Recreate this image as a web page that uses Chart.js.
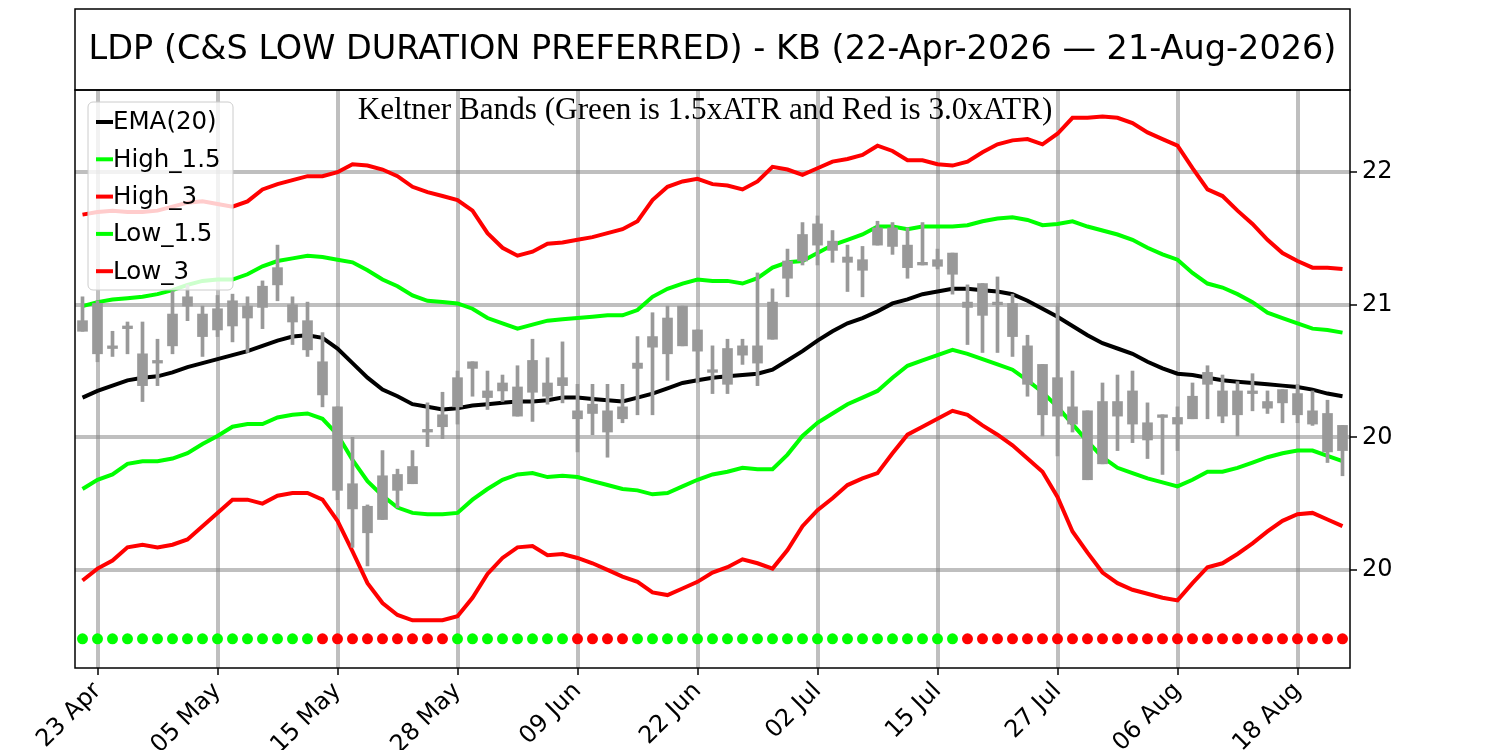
<!DOCTYPE html>
<html>
<head>
<meta charset="utf-8">
<title>LDP Keltner Bands</title>
<script src="https://cdn.jsdelivr.net/npm/chart.js@4.4.1/dist/chart.umd.min.js"></script>
<style>
    html, body { margin: 0; padding: 0; background: #fff; }
    #chart { display: block; }
</style>
</head>
<body>
<canvas id="chart" width="1500" height="750"></canvas>
<script>
// Trading days 22-Apr-2026 .. 21-Aug-2026 (85 sessions), x = session index
var xTickIdx = [1, 9, 17, 25, 33, 41, 49, 57, 65, 73, 81];
var xTickLabels = ['23 Apr', '05 May', '15 May', '28 May', '09 Jun', '22 Jun', '02 Jul', '15 Jul', '27 Jul', '06 Aug', '18 Aug'];
var yTickVals = [19, 20, 21, 22];
var yTickLabels = ['20', '20', '21', '22'];

// candles (all drawn gray): wick high/low and body top/bottom
var high = [21.06, 21.03, 20.80, 20.87, 20.87, 20.74, 21.10, 21.15, 20.99, 21.07, 21.08, 21.06, 21.18, 21.45, 21.06, 21.02, 20.79,
    20.23, 20.00, 19.49, 19.90, 19.76, 19.90, 20.26, 20.34, 20.50, 20.57, 20.50, 20.47, 20.54, 20.74, 20.60, 20.72, 20.40, 20.40,
    20.40, 20.40, 20.76, 20.94, 20.99, 20.99, 20.81, 20.69, 20.74, 20.74, 21.24, 21.12, 21.42, 21.62, 21.67, 21.56, 21.45, 21.44,
    21.63, 21.62, 21.58, 21.62, 21.42, 21.39, 21.15, 21.16, 21.21, 21.08, 20.77, 20.55, 20.99, 20.50, 20.20, 20.41, 20.47, 20.50,
    20.26, 20.17, 20.23, 20.41, 20.54, 20.47, 20.42, 20.48, 20.35, 20.36, 20.40, 20.35, 20.28, 20.09];
var low = [20.80, 20.57, 20.61, 20.63, 20.27, 20.39, 20.63, 20.88, 20.61, 20.76, 20.72, 20.64, 20.82, 21.03, 20.70, 20.61, 20.23,
    19.53, 19.17, 19.03, 19.38, 19.47, 19.65, 19.93, 19.99, 20.10, 20.31, 20.21, 20.27, 20.16, 20.12, 20.25, 20.26, 19.89, 20.02,
    19.85, 20.11, 20.17, 20.17, 20.43, 20.69, 20.41, 20.33, 20.33, 20.55, 20.39, 20.74, 21.06, 21.30, 21.30, 21.32, 21.10, 21.06,
    21.45, 21.38, 21.20, 21.30, 21.27, 21.08, 20.70, 20.64, 20.64, 20.61, 20.31, 20.01, 19.86, 20.04, 19.68, 19.80, 19.90, 19.96,
    19.84, 19.72, 19.90, 20.14, 20.14, 20.11, 20.01, 20.20, 20.18, 20.11, 20.11, 20.09, 19.81, 19.71];
var bodyTop = [20.88, 21.01, 20.69, 20.84, 20.63, 20.58, 20.93, 21.06, 20.93, 20.97, 21.03, 20.99, 21.14, 21.28, 21.00, 20.88, 20.57,
    20.23, 19.65, 19.48, 19.71, 19.72, 19.78, 20.06, 20.17, 20.45, 20.57, 20.35, 20.41, 20.38, 20.58, 20.41, 20.45, 20.20, 20.25,
    20.20, 20.23, 20.56, 20.76, 20.90, 20.99, 20.81, 20.51, 20.67, 20.69, 20.69, 21.02, 21.33, 21.53, 21.61, 21.48, 21.36, 21.34,
    21.58, 21.58, 21.45, 21.32, 21.34, 21.39, 21.02, 21.16, 21.02, 21.01, 20.69, 20.55, 20.45, 20.23, 20.20, 20.27, 20.27, 20.35,
    20.11, 20.17, 20.15, 20.31, 20.49, 20.35, 20.35, 20.35, 20.27, 20.36, 20.33, 20.20, 20.18, 20.09];
var bodyBot = [20.80, 20.63, 20.67, 20.82, 20.39, 20.56, 20.69, 20.99, 20.76, 20.81, 20.84, 20.90, 20.98, 21.15, 20.87, 20.66, 20.32,
    19.60, 19.46, 19.28, 19.38, 19.60, 19.65, 20.04, 20.08, 20.23, 20.52, 20.30, 20.35, 20.16, 20.34, 20.31, 20.39, 20.14, 20.18,
    20.04, 20.14, 20.52, 20.68, 20.63, 20.69, 20.65, 20.49, 20.40, 20.62, 20.56, 20.74, 21.20, 21.33, 21.45, 21.41, 21.32, 21.26,
    21.45, 21.44, 21.28, 21.30, 21.29, 21.23, 20.98, 20.92, 21.00, 20.76, 20.40, 20.17, 20.16, 20.10, 19.68, 19.80, 20.16, 20.10,
    19.98, 20.15, 20.10, 20.14, 20.40, 20.16, 20.17, 20.33, 20.22, 20.26, 20.17, 20.10, 19.89, 19.90];

var ema20 = [20.30, 20.35, 20.39, 20.43, 20.45, 20.46, 20.49, 20.53, 20.56, 20.59, 20.62, 20.65, 20.69, 20.73, 20.76, 20.77, 20.75,
    20.67, 20.56, 20.45, 20.36, 20.31, 20.25, 20.23, 20.21, 20.22, 20.24, 20.25, 20.26, 20.27, 20.27, 20.28, 20.30, 20.30, 20.29,
    20.28, 20.27, 20.30, 20.33, 20.37, 20.41, 20.43, 20.45, 20.46, 20.47, 20.48, 20.51, 20.58, 20.65, 20.73, 20.80, 20.86, 20.90,
    20.95, 21.01, 21.04, 21.08, 21.10, 21.12, 21.12, 21.11, 21.10, 21.08, 21.03, 20.97, 20.91, 20.84, 20.77, 20.71, 20.67, 20.63,
    20.57, 20.52, 20.48, 20.47, 20.45, 20.43, 20.42, 20.41, 20.40, 20.39, 20.38, 20.36, 20.33, 20.31];
var high15 = [20.99, 21.02, 21.04, 21.05, 21.06, 21.08, 21.11, 21.15, 21.18, 21.19, 21.19, 21.23, 21.29, 21.33, 21.35, 21.37, 21.36,
    21.34, 21.32, 21.26, 21.19, 21.14, 21.07, 21.03, 21.02, 21.01, 20.97, 20.90, 20.86, 20.82, 20.85, 20.88, 20.89, 20.90, 20.91,
    20.92, 20.92, 20.96, 21.06, 21.12, 21.16, 21.19, 21.18, 21.18, 21.16, 21.20, 21.28, 21.32, 21.33, 21.39, 21.45, 21.49, 21.53,
    21.59, 21.59, 21.57, 21.59, 21.59, 21.59, 21.60, 21.63, 21.65, 21.66, 21.64, 21.60, 21.61, 21.63, 21.59, 21.56, 21.53, 21.49,
    21.43, 21.38, 21.34, 21.24, 21.16, 21.13, 21.08, 21.02, 20.94, 20.90, 20.86, 20.82, 20.81, 20.79];
var high3 = [21.68, 21.70, 21.71, 21.70, 21.70, 21.71, 21.74, 21.77, 21.78, 21.76, 21.74, 21.78, 21.87, 21.91, 21.94, 21.97, 21.97,
    22.00, 22.06, 22.05, 22.02, 21.97, 21.89, 21.85, 21.82, 21.79, 21.71, 21.54, 21.43, 21.37, 21.40, 21.46, 21.47, 21.49, 21.51,
    21.54, 21.57, 21.63, 21.79, 21.89, 21.93, 21.95, 21.91, 21.90, 21.87, 21.93, 22.04, 22.02, 21.98, 22.03, 22.08, 22.10, 22.13,
    22.20, 22.16, 22.09, 22.09, 22.06, 22.05, 22.08, 22.15, 22.21, 22.24, 22.25, 22.21, 22.29, 22.41, 22.41, 22.42, 22.41, 22.37,
    22.30, 22.25, 22.20, 22.03, 21.87, 21.82, 21.71, 21.61, 21.49, 21.39, 21.33, 21.28, 21.28, 21.27];
var low15 = [19.61, 19.68, 19.72, 19.80, 19.82, 19.82, 19.84, 19.88, 19.95, 20.01, 20.08, 20.10, 20.10, 20.15, 20.17, 20.18, 20.14,
    20.02, 19.83, 19.67, 19.56, 19.47, 19.43, 19.42, 19.42, 19.43, 19.53, 19.61, 19.68, 19.72, 19.73, 19.70, 19.71, 19.70, 19.67,
    19.64, 19.61, 19.60, 19.57, 19.58, 19.63, 19.68, 19.72, 19.74, 19.77, 19.76, 19.76, 19.87, 20.01, 20.11, 20.18, 20.25, 20.30,
    20.35, 20.45, 20.54, 20.58, 20.62, 20.66, 20.63, 20.59, 20.55, 20.51, 20.43, 20.34, 20.23, 20.10, 19.97, 19.85, 19.77, 19.73,
    19.69, 19.66, 19.63, 19.68, 19.74, 19.74, 19.77, 19.81, 19.85, 19.88, 19.90, 19.90, 19.86, 19.82];
var low3 = [18.92, 19.01, 19.07, 19.17, 19.19, 19.17, 19.19, 19.23, 19.33, 19.43, 19.53, 19.53, 19.50, 19.56, 19.58, 19.58, 19.53,
    19.37, 19.14, 18.90, 18.75, 18.66, 18.62, 18.62, 18.62, 18.65, 18.79, 18.97, 19.09, 19.17, 19.18, 19.11, 19.12, 19.09, 19.05,
    19.00, 18.95, 18.91, 18.83, 18.81, 18.86, 18.91, 18.98, 19.02, 19.08, 19.05, 19.01, 19.15, 19.33, 19.45, 19.54, 19.64, 19.69,
    19.73, 19.88, 20.02, 20.08, 20.14, 20.20, 20.17, 20.09, 20.02, 19.94, 19.84, 19.74, 19.55, 19.29, 19.13, 18.98, 18.90, 18.85,
    18.82, 18.79, 18.77, 18.90, 19.02, 19.05, 19.12, 19.20, 19.29, 19.37, 19.42, 19.43, 19.38, 19.33];

// signal row along the bottom: 1 = green, -1 = red
var signal = [1, 1, 1, 1, 1, 1, 1, 1, 1, 1, 1, 1, 1, 1, 1, 1, -1, -1, -1, -1, -1, -1, -1, -1, -1, 1, 1, 1, 1, 1, 1, 1, 1,
    -1, -1, -1, -1, 1, 1, 1, 1, 1, 1, 1, 1, 1, 1, 1, 1, 1, 1, 1, 1, 1, 1, 1, 1, 1, 1, -1, -1, -1, -1, -1, -1, -1, -1, -1, -1,
    -1, -1, -1, -1, -1, -1, -1, -1, -1, -1, -1, -1, -1, -1, -1, -1];
var signalLevel = 18.48;

var titleText = 'LDP (C&S LOW DURATION PREFERRED) - KB (22-Apr-2026 \u2014 21-Aug-2026)';
var subtitleText = 'Keltner Bands (Green is 1.5xATR and Red is 3.0xATR)';

function pts(arr) {
    return arr.map(function (v, i) { return { x: i, y: v }; });
}
function ranges(a, b) {
    return a.map(function (v, i) { return { x: i, y: [b[i], v] }; });
}

var GREEN = '#00ff00';
var RED = '#ff0000';
var CANDLE = '#999999';

function lineSet(label, data, color) {
    return {
        type: 'line', label: label, data: pts(data), borderColor: color, backgroundColor: color,
        borderWidth: 4, pointRadius: 0, tension: 0, order: 2, inLegend: true
    };
}

// frame, title box, subtitle and the legend inside the plot
var decorations = {
    id: 'decorations',
    afterDatasetsDraw: function (chart) {
        var ctx = chart.ctx, a = chart.chartArea;
        ctx.save();
        ctx.strokeStyle = '#000';
        ctx.lineWidth = 1.5;
        ctx.strokeRect(a.left, a.top, a.right - a.left, a.bottom - a.top);
        ctx.strokeRect(a.left, 9, a.right - a.left, a.top - 9);

        ctx.fillStyle = '#000';
        ctx.textAlign = 'center';
        ctx.textBaseline = 'middle';
        ctx.font = '33.5px "DejaVu Sans"';
        ctx.fillText(titleText, (a.left + a.right) / 2, 50);
        ctx.font = '31.2px "Liberation Serif"';
        ctx.fillText(subtitleText, 705, 111);

        // legend box
        var items = chart.data.datasets.filter(function (d) { return d.inLegend; });
        var bx = a.left + 13, by = a.top + 12, bw = 145, bh = 188, r = 5;
        ctx.beginPath();
        ctx.moveTo(bx + r, by);
        ctx.arcTo(bx + bw, by, bx + bw, by + bh, r);
        ctx.arcTo(bx + bw, by + bh, bx, by + bh, r);
        ctx.arcTo(bx, by + bh, bx, by, r);
        ctx.arcTo(bx, by, bx + bw, by, r);
        ctx.closePath();
        ctx.fillStyle = 'rgba(255,255,255,0.8)';
        ctx.fill();
        ctx.strokeStyle = '#cccccc';
        ctx.lineWidth = 1;
        ctx.stroke();

        ctx.textAlign = 'left';
        ctx.font = '24.5px "DejaVu Sans"';
        items.forEach(function (d, k) {
            var yy = by + 20 + k * 37.3;
            ctx.strokeStyle = d.borderColor;
            ctx.lineWidth = 4;
            ctx.beginPath();
            ctx.moveTo(bx + 8, yy);
            ctx.lineTo(bx + 25, yy);
            ctx.stroke();
            ctx.fillStyle = '#000';
            ctx.fillText(d.label, bx + 25, yy + 1);
        });
        ctx.restore();
    }
};

new Chart(document.getElementById('chart'), {
    type: 'line',
    data: {
        datasets: [
            {
                type: 'bar', label: 'wick', data: ranges(high, low), backgroundColor: CANDLE,
                barThickness: 3, grouped: false, borderWidth: 0, order: 1
            },
            {
                type: 'bar', label: 'body', data: ranges(bodyTop, bodyBot), backgroundColor: CANDLE,
                barThickness: 10, grouped: false, borderWidth: 0, order: 0
            },
            lineSet('EMA(20)', ema20, '#000000'),
            lineSet('High_1.5', high15, GREEN),
            lineSet('High_3', high3, RED),
            lineSet('Low_1.5', low15, GREEN),
            lineSet('Low_3', low3, RED),
            {
                type: 'line', label: 'signal', data: signal.map(function (s, i) { return { x: i, y: signalLevel }; }),
                showLine: false, pointRadius: 5.5, pointBorderWidth: 0,
                pointBackgroundColor: signal.map(function (s) { return s > 0 ? GREEN : RED; }),
                order: 3
            }
        ]
    },
    options: {
        responsive: false,
        animation: false,
        devicePixelRatio: 1,
        layout: { padding: { left: 75, top: 90, right: 0, bottom: 0 } },
        plugins: {
            legend: { display: false },
            title: { display: false },
            tooltip: { enabled: false }
        },
        scales: {
            x: {
                type: 'linear',
                min: -0.5,
                max: 84.5,
                offset: false,
                afterBuildTicks: function (scale) {
                    scale.ticks = xTickIdx.map(function (v) { return { value: v }; });
                },
                afterFit: function (scale) { scale.height = 82; },
                grid: {
                    offset: false, color: 'rgba(128,128,128,0.5)', lineWidth: 4,
                    tickColor: '#000', tickWidth: 1.5, tickLength: 7
                },
                border: { display: false },
                ticks: {
                    autoSkip: false, minRotation: 45, maxRotation: 45, padding: 2,
                    color: '#000', font: { family: 'DejaVu Sans', size: 24 },
                    callback: function (v) { return xTickLabels[xTickIdx.indexOf(v)]; }
                }
            },
            y: {
                type: 'linear',
                position: 'right',
                min: 18.26,
                max: 22.62,
                afterBuildTicks: function (scale) {
                    scale.ticks = yTickVals.map(function (v) { return { value: v }; });
                },
                afterFit: function (scale) { scale.width = 150; },
                grid: {
                    color: 'rgba(128,128,128,0.5)', lineWidth: 4,
                    tickColor: '#000', tickWidth: 1.5, tickLength: 7
                },
                border: { display: false },
                ticks: {
                    padding: 5, color: '#000', font: { family: 'DejaVu Sans', size: 24 },
                    callback: function (v) { return yTickLabels[yTickVals.indexOf(v)]; }
                }
            }
        }
    },
    plugins: [decorations]
});
</script>
</body>
</html>
